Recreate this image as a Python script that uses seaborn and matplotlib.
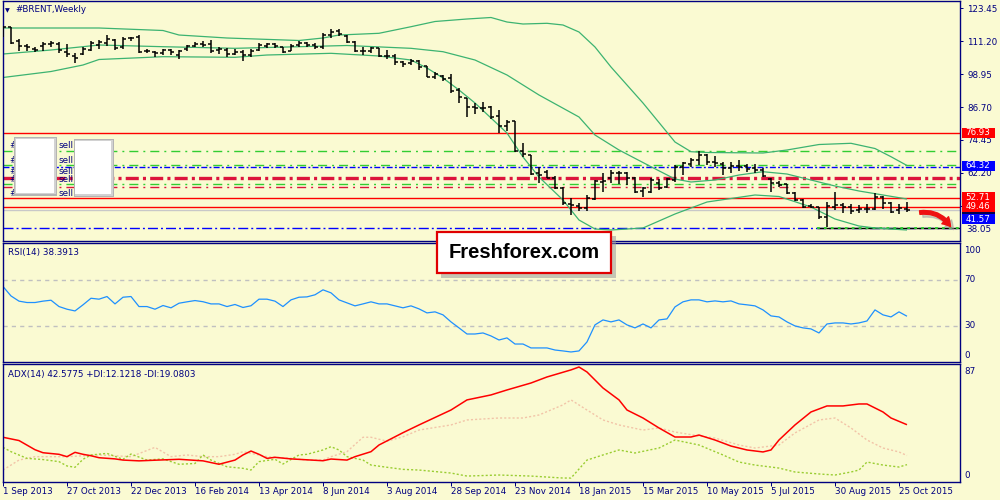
import numpy as np
import pandas as pd
import matplotlib
matplotlib.use("Agg")
import matplotlib.pyplot as plt
import matplotlib.transforms as mtransforms
from matplotlib.patches import Rectangle, FancyArrowPatch
import seaborn as sns

# ---------------- data (weekly #BRENT, week 0 = 1 Sep 2013) ----------------
opens = [114.3,116.4,111.4,109.4,108.4,109.4,110.2,110.2,107.2,105.7,
         106.4,107.9,109.8,110.5,111.7,109.1,112.4,112.8,107.4,107.2,
         106.8,107.9,106.1,108.3,109.4,110.2,110.2,107.9,107.9,106.4,
         107.2,106.1,107.9,109.4,110.2,109.1,107.6,109.8,110.5,109.8,
         109.1,113.5,115.0,113.1,110.9,107.6,107.6,108.7,105.7,105.7,
         103.5,103.1,103.8,102.0,97.9,98.3,97.5,93.0,90.1,86.7,
         86.3,86.7,83.4,79.65,81.5,70.3,68.85,62.2,62.5,60.3,
         56.6,50.6,49.9,49.1,52.5,58.9,60.3,62.2,62.3,60.3,
         55.5,55.1,58.4,57.1,59.55,64.4,65.5,67.0,68.85,66.25,
         65.5,64.0,64.8,64.8,64.0,63.3,59.9,58.4,58.06,54.7,
         52.1,49.9,49.5,45.8,49.5,50.25,49.5,48.4,48.8,48.8,
         53.2,51.0,48.4,48.8]
highs = [116.9,116.6,111.9,110.2,108.9,110.9,111.4,110.9,110.2,106.7,
         109.2,111.4,111.7,113.4,111.9,112.7,112.9,113.4,108.2,107.7,
         108.4,108.4,107.9,109.9,110.9,111.2,111.7,109.2,108.7,108.4,
         107.9,108.2,110.4,110.7,110.7,109.2,110.2,111.2,110.9,110.7,
         114.1,115.6,115.6,113.5,111.4,109.2,109.2,108.7,107.9,106.4,
         103.9,104.5,104.2,102.0,99.9,98.6,99.0,93.7,90.2,88.3,
         88.7,87.1,85.6,81.9,81.6,73.2,69.0,64.5,63.3,61.0,
         56.8,52.7,51.1,53.97,59.55,62.05,63.3,63.0,62.6,60.6,
         57.0,60.2,59.8,60.2,65.1,66.4,67.6,70.5,69.2,68.5,
         66.4,66.4,67.0,65.5,65.5,64.2,60.2,59.3,58.2,55.2,
         52.4,50.6,49.6,51.5,55.2,51.1,50.6,50.25,50.6,54.6,
         53.6,51.5,50.6,51.5]
lows = [112.7,110.2,107.7,107.7,107.2,107.4,109.2,106.9,105.4,103.2,
        106.2,107.7,108.2,109.4,107.9,108.4,111.4,106.7,106.7,105.4,
        106.0,106.2,104.7,107.7,108.9,109.2,106.9,106.4,105.4,106.0,
        103.9,105.4,107.7,108.7,108.7,106.7,107.4,109.2,108.9,108.4,
        108.4,112.3,113.1,110.6,107.3,106.0,106.9,105.2,104.7,102.2,
        101.7,102.5,100.5,97.8,97.3,96.3,92.0,88.3,83.1,84.1,
        85.0,82.1,76.9,77.8,70.1,68.2,61.4,58.5,60.2,56.1,
        50.25,46.5,48.1,48.1,52.1,55.2,58.3,58.1,57.7,54.8,
        53.1,54.6,55.8,56.5,58.9,61.4,64.5,65.1,65.1,64.3,
        61.4,62.0,63.0,62.6,62.3,60.6,55.2,56.8,54.3,51.85,
        49.0,49.0,44.9,42.2,48.4,47.4,46.9,47.1,47.1,48.4,
        48.6,47.4,46.9,47.7]
closes = [116.4,110.7,109.4,109.2,107.9,110.2,110.5,107.9,106.4,104.9,
          108.3,110.5,110.9,112.0,108.7,112.0,112.4,107.2,107.6,106.8,
          107.9,107.2,107.6,109.4,110.2,109.8,107.6,108.2,106.4,107.2,
          106.1,107.6,109.8,110.2,109.4,107.2,109.4,110.5,109.8,109.1,
          113.5,114.7,113.9,110.9,107.6,107.5,108.7,105.7,105.6,103.5,
          102.7,103.8,101.6,97.9,99.0,97.1,92.7,90.4,86.7,86.3,
          86.4,83.0,79.65,81.1,70.3,69.2,61.8,61.4,60.3,56.6,
          51.0,50.25,49.1,52.85,59.2,59.3,62.2,62.1,60.2,55.1,
          56.6,59.55,56.5,59.9,64.4,65.9,67.0,68.85,66.25,65.9,
          64.0,64.8,64.4,63.6,63.3,61.0,58.5,57.7,54.7,52.1,
          49.5,49.5,45.8,49.9,50.25,49.5,48.0,48.8,48.6,53.2,
          51.0,47.6,49.1,48.4]

# Bollinger band readings (week index, price)
upper_week = [0,12,20,22,28,37,40,42,47,51,54,58,61,63,65,68,70,72,74,76,80,84,86,88,95,98,102,106,109,111,113]
upper_val = [116.12,116.12,115.19,113.51,112.40,111.47,112.40,113.51,114.15,116.60,
             118.54,119.47,120.03,118.35,117.61,117.87,117.24,114.63,109.05,101.61,
             88.21,73.69,70.08,69.79,69.60,70.72,72.76,73.21,71.27,68.22,64.95]
middle_week = [0,6,12,20,29,37,43,51,55,59,63,67,72,74,77,81,84,86,89,92,95,98,101,104,107,110,113]
middle_val = [106.44,107.93,109.79,109.16,108.56,109.16,109.61,108.56,107.30,104.21,
              98.63,91.19,83.00,76.30,70.72,64.50,59.92,58.81,59.55,61.41,
              62.64,61.78,59.55,57.32,55.46,53.97,52.48]
lower_week = [0,6,10,12,20,29,33,41,47,51,53,55,57,59,61,63,65,67,70,72,74,76,80,84,88,94,97,99,101,104,107,109,113]
lower_val = [97.70,99.93,102.35,104.40,105.44,105.22,106.07,106.70,105.70,104.21,
             101.23,97.51,93.05,88.21,82.63,77.04,68.11,60.67,52.11,44.66,
             41.32,40.94,41.69,46.90,51.36,53.97,53.41,51.48,49.50,45.04,
             42.43,41.69,40.94]

# RSI(14), one value per week
rsi = [64.2,56,51.5,50.3,50.3,51.5,52.3,46.8,44.5,43.0,48.3,54.0,53.2,55.5,49.1,54.9,55.5,46.8,46.8,44.5,
       47.7,45.7,49.7,50.9,52.0,51.0,49.1,49.1,46.8,48.6,46.0,47.5,53.2,53.2,51.5,46.8,52.6,54.9,
       55.2,57.0,61.3,58.7,52.6,50.0,47.4,49.1,50.9,49.1,49.1,47.4,45.7,47.4,44.8,41.3,42.2,39.6,
       33.5,28.3,23.0,23.0,23.9,21.3,17.8,19.6,14.3,14.3,10.9,10.9,10.9,9.1,8.3,7.4,8.3,16.1,
       30.9,35.2,33.5,35.2,30.9,28.3,31.7,28.3,35.2,36.1,46.5,50.9,52.6,52.6,50.9,51.7,50.9,51.7,
       49.1,48.3,47.4,43.9,38.7,37.8,33.5,30.0,28.3,27.4,23.9,31.7,32.6,32.6,31.7,32.6,34.3,43.9,
       39.6,37.8,42.2,38.4]

# ADX(14) readings (week index, value)
adx_week = [0,2,4,5,7,8,9,10,11,12,14,15,17,19,22,25,27,29,30,31,32,33,34,36,38,40,41,43,44,46,
            47,50,52,56,58,61,63,66,68,71,72,73,74,75,77,78,80,82,84,86,87,89,91,93,95,96,97,99,
            101,103,105,107,108,110,111,113]
adx_val = [33.0,30.5,23.5,21.2,20.0,18.2,21.5,20.0,18.9,17.4,16.5,15.6,15.0,15.5,16.2,15.0,12.4,15.6,
           19.5,22.5,20.0,16.9,17.7,16.5,15.8,15.1,16.4,15.6,18.2,22.0,27.1,36.5,42.4,53.8,61.5,65.3,
           69.1,74.4,79.0,84.4,86.6,82.8,76.7,70.6,61.5,53.8,47.7,40.1,33.2,33.2,34.7,30.9,26.3,23.3,
           21.8,23.3,30.9,42.4,52.3,56.9,56.9,58.4,58.4,52.3,47.7,42.58]
plus_di_week = [0,1,3,5,7,8,9,10,11,13,15,16,18,20,22,24,25,26,28,30,31,32,34,35,37,38,40,41,42,43,
                45,46,48,50,52,56,58,62,66,70,71,73,75,77,79,82,84,87,90,92,94,97,99,102,104,106,107,
                108,110,112,113]
plus_di_val = [25.3,22.0,16.9,16.0,14.4,11.1,10.1,16.2,19.5,20.7,16.2,20.2,15.6,16.5,12.4,13.0,19.5,15.6,
               10.5,9.3,8.0,14.4,16.2,12.6,19.5,20.0,23.3,25.8,23.3,18.2,15.6,11.8,10.1,8.5,8.0,5.7,
               3.4,4.2,3.4,1.9,1.9,15.6,19.5,23.3,21.0,24.8,30.9,27.1,19.5,14.1,11.8,9.5,6.5,5.0,4.2,
               6.5,8.0,14.1,11.8,10.3,12.12]
minus_di_week = [0,2,4,8,12,16,19,21,23,25,27,29,30,33,36,38,40,41,43,45,46,48,50,52,56,58,62,65,67,70,
                 71,73,75,77,80,82,84,87,89,92,94,97,99,102,104,106,108,110,112,113]
minus_di_val = [8.0,15.6,18.2,18.2,19.5,18.2,25.3,18.2,19.5,18.2,18.2,20.0,22.0,18.2,16.9,15.6,15.6,18.2,
                22.0,33.0,33.0,30.0,33.4,38.5,42.4,46.2,47.7,47.7,50.0,57.7,61.5,53.8,46.2,42.4,38.5,
                40.1,37.0,34.0,32.4,27.1,24.8,27.1,36.3,46.2,47.7,40.1,30.9,24.8,21.8,19.08]

# horizontal price levels drawn on the chart
level_values = [76.93, 70.23, 65.13, 64.32, 60.37, 58.06, 56.87, 52.71, 49.46, 48.28, 41.57]
level_kinds  = ['red', 'green', 'green', 'blue', 'crimson', 'green', 'crimson_thin', 'red', 'red', 'bid', 'blue2']
support_level = 41.57
support_from_week = 101.75

price_ticks = [123.45, 111.20, 98.95, 86.70, 74.45, 62.20, 49.95]
price_bottom_label = 38.05
tag_values = [76.93, 64.32, 52.71, 49.46, 41.57]
tag_colors = ['#FF0000', '#0000FF', '#FF0000', '#FF0000', '#0000FF']
tag_shift_px = [0.5, 1.4, 1.2, 0.4, 9.1]

date_tick_weeks = list(range(0, 113, 8))
date_labels = ["1 Sep 2013", "27 Oct 2013", "22 Dec 2013", "16 Feb 2014", "13 Apr 2014",
               "8 Jun 2014", "3 Aug 2014", "28 Sep 2014", "23 Nov 2014", "18 Jan 2015",
               "15 Mar 2015", "10 May 2015", "5 Jul 2015", "30 Aug 2015", "25 Oct 2015"]

for name, arr in [("opens", opens), ("highs", highs), ("lows", lows), ("rsi", rsi)]:
    if len(arr) != len(closes):
        raise SystemExit(f"{name} has {len(arr)} values, closes {len(closes)}")

# ---------------- styling ----------------
W, H = 1000, 500
BG = "#FAFAD2"
NAVY = "#000080"
GREEN_BB = "#3CB371"
LIME = "#32CD32"
FS = 6.3
PX = 0.72  # one pixel in points

plt.rcParams['font.family'] = ['DejaVu Sans']
plt.rcParams['lines.scale_dashes'] = False
plt.rcParams['lines.solid_capstyle'] = 'butt'

fig = plt.figure(figsize=(10, 5), dpi=100, facecolor=BG)


def px_axes(x0, y0, x1, y1):
    a = fig.add_axes([x0 / W, 1 - y1 / H, (x1 - x0) / W, (y1 - y0) / H])
    a.set_facecolor(BG)
    for s in a.spines.values():
        s.set_color(NAVY)
        s.set_linewidth(1.0)
    a.set_xlim(-0.0625, 119.69)
    a.tick_params(axis='x', bottom=False, labelbottom=False)
    a.tick_params(axis='y', left=False, labelleft=False)
    return a


ax = px_axes(2.5, 1, 960.5, 241)
ax_rsi = px_axes(2.5, 242.7, 960.5, 362)
ax_adx = px_axes(2.5, 364, 960.5, 481.7)

ax.set_ylim(36.85, 126.17)
ax_rsi.set_ylim(-1.3, 102.2)
ax_adx.set_ylim(-0.9, 88.9)

# ---- horizontal levels ----
styles = {
    'red': dict(color='#FF0000', lw=1.0, ls='-'),
    'green': dict(color=LIME, lw=1.0, ls=(0, (6.5, 3.6, 1.4, 3.6))),
    'blue': dict(color='#0000FF', lw=1.0, ls=(0, (4.3, 1.6, 1.4, 1.6))),
    'crimson': dict(color='#DC143C', lw=2.4, ls=(0, (9.4, 3.0, 2.2, 3.0))),
    'crimson_thin': dict(color='#DC143C', lw=1.0, ls=(0, (6.5, 3.6, 1.4, 3.6))),
    'bid': dict(color='#C8C8C8', lw=1.0, ls='-'),
    'blue2': dict(color='#0000FF', lw=1.0, ls=(0, (7.2, 2.2, 1.4, 2.2))),
}
for v, k in zip(level_values, level_kinds):
    ax.axhline(v, zorder=1, **styles[k])

# support line (black with green dots) at the right
ax.hlines(support_level, support_from_week, 119.69, color='black', lw=1.0, zorder=1.5)
ax.hlines(support_level, support_from_week, 119.69, color=LIME, lw=1.4,
          linestyles=[(0, (2.0, 3.0))], zorder=1.6)

# ---- Bollinger bands ----
for wk, val in [(upper_week, upper_val), (middle_week, middle_val), (lower_week, lower_val)]:
    sns.lineplot(x=wk, y=val, ax=ax, color=GREEN_BB, linewidth=0.9, legend=False, zorder=2)

# ---- OHLC bars ----
df = pd.DataFrame(dict(week=np.arange(len(closes)), open=opens, high=highs, low=lows, close=closes))
ax.vlines(df.week, df.low, df.high, color='black', lw=1.1, zorder=3)
ax.hlines(df.open, df.week - 0.36, df.week, color='black', lw=1.1, zorder=3)
ax.hlines(df.close, df.week, df.week + 0.36, color='black', lw=1.1, zorder=3)

ax.set_xlabel('')
ax.set_ylabel('')

# price axis on right
ax.yaxis.tick_right()
ax.set_yticks(price_ticks)
ax.set_yticklabels([f"{t:.2f}" for t in price_ticks])
ax.tick_params(axis='y', right=True, labelright=True, direction='out', length=2.2, width=PX,
               color=NAVY, labelcolor=NAVY, labelsize=FS, pad=2.5)


def right_text(a, yval, s, dy_px=0.0, dx_px=6.0, **kw):
    tr = mtransforms.blended_transform_factory(a.transAxes, a.transData) + \
        mtransforms.ScaledTranslation(dx_px / 100, -dy_px / 100, fig.dpi_scale_trans)
    a.text(1.0, yval, s, transform=tr, fontsize=FS, va='center', ha='left', clip_on=False, **kw)


right_text(ax, price_bottom_label, f"{price_bottom_label:.2f}", dy_px=-8.5, color=NAVY)

# current-price (dark) tag under the red tags
px_per_unit = 240 / (126.17 - 36.85)


def tag(a, value, color, shift_px, text=None, zorder=6):
    tr = mtransforms.blended_transform_factory(a.transAxes, a.transData) + \
        mtransforms.ScaledTranslation(0, shift_px / 100, fig.dpi_scale_trans)
    h = 9.6 / px_per_unit
    a.add_patch(Rectangle((1.0011, value - h / 2), 33 / 958, h, transform=tr,
                          facecolor=color, edgecolor='none', clip_on=False, zorder=zorder))
    if text:
        tr2 = tr + mtransforms.ScaledTranslation(5 / 100, 0, fig.dpi_scale_trans)
        a.text(1.0, value, text, transform=tr2, color='white', fontsize=FS, va='center',
               ha='left', clip_on=False, zorder=zorder + 0.5)


tag(ax, level_values[level_kinds.index('bid')], '#000050', 0.8, None, zorder=5)
for v, c, s in zip(tag_values, tag_colors, tag_shift_px):
    tag(ax, v, c, s, f"{v:.2f}")

# ---- RSI ----
sns.lineplot(x=df.week, y=rsi, ax=ax_rsi, color='#1E90FF', linewidth=0.9, legend=False)
for lvl in (70, 30):
    ax_rsi.axhline(lvl, color='#C0C0C0', lw=1.0, ls=(0, (3.0, 3.0)), zorder=1)
ax_rsi.set_xlabel(''); ax_rsi.set_ylabel('')
for v, dy in [(100, 5.2), (70, 0), (30, 0), (0, -4.8)]:
    right_text(ax_rsi, v, str(v), dy_px=dy, dx_px=3.5, color=NAVY)

# ---- ADX ----
sns.lineplot(x=minus_di_week, y=minus_di_val, ax=ax_adx, color='#F2C4A8', linewidth=1.0,
             linestyle=(0, (1.5, 1.5)), legend=False)
sns.lineplot(x=plus_di_week, y=plus_di_val, ax=ax_adx, color='#9ACD32', linewidth=1.0,
             linestyle=(0, (1.5, 1.5)), legend=False)
sns.lineplot(x=adx_week, y=adx_val, ax=ax_adx, color='#FF0000', linewidth=1.1, legend=False)
ax_adx.set_xlabel(''); ax_adx.set_ylabel('')
for v, dy in [(87, 5.2), (0, -5.2)]:
    right_text(ax_adx, v, str(v), dy_px=dy, dx_px=3.5, color=NAVY)

ax_adx.set_xticks(date_tick_weeks)
ax_adx.set_xticklabels(date_labels, ha='left')
ax_adx.tick_params(axis='x', bottom=True, labelbottom=True, direction='out', length=3.0,
                   width=PX, color=NAVY, labelcolor=NAVY, labelsize=FS, pad=1.0)
for a in (ax, ax_rsi, ax_adx):
    a.set_xlim(-0.0625, 119.69)

# ---- titles ----
def fig_text(x, y, s, **kw):
    fig.text(x / W, 1 - y / H, s, **kw)


fig_text(7.5, 10.5, '\u25BC', fontsize=4.5, color=NAVY, ha='center', va='center')
fig_text(15, 10, '#BRENT,Weekly', fontsize=FS, color=NAVY, va='center')
fig_text(8, 252.5, 'RSI(14) 38.3913', fontsize=FS, color=NAVY, va='center')
fig_text(8, 374, 'ADX(14) 42.5775 +DI:12.1218 -DI:19.0803', fontsize=FS, color=NAVY, va='center')

# ---- order labels hidden behind white boxes ----
for yy in (146, 160, 172, 180, 193):
    fig_text(9.5, yy, '#', fontsize=FS, color=NAVY, va='center', zorder=2)
    fig_text(58.5, yy, 'sell', fontsize=FS, color=NAVY, va='center', zorder=2)


def fig_rect(x0, y0, x1, y1, **kw):
    r = Rectangle((x0 / W, 1 - y1 / H), (x1 - x0) / W, (y1 - y0) / H,
                  transform=fig.transFigure, **kw)
    fig.add_artist(r)


for (x0, y0, x1, y1) in [(15.7, 138.7, 54.3, 192.7), (75, 140.7, 111, 194)]:
    fig_rect(x0 - 1.5, y0 - 1.5, x1 + 3.0, y1 + 3.0, facecolor='#B4B4B4', edgecolor='none', zorder=3)
    fig_rect(x0 - 0.5, y0 - 0.5, x1 + 1.5, y1 + 1.5, facecolor='#D2D2D2', edgecolor='none', zorder=3.1)
    fig_rect(x0, y0, x1, y1, facecolor='white', edgecolor='none', zorder=3.2)

# ---- watermark ----
fig_rect(441, 236, 616, 278, facecolor='#9A9A9A', edgecolor='none', alpha=0.55, zorder=7)
fig_rect(437, 232, 611, 273, facecolor='white', edgecolor='#E00000', linewidth=1.6, zorder=7.5)
fig_text(524, 252.5, 'Freshforex.com', fontsize=14.5, fontweight='bold', color='black',
         ha='center', va='center', zorder=8, family=['Liberation Sans', 'DejaVu Sans'])

# ---- red arrow ----
arr_kw = dict(connectionstyle='arc3,rad=-0.35',
              arrowstyle='simple,head_width=7,head_length=6,tail_width=2.6')
shadow = FancyArrowPatch((920 / W, 1 - 216 / H), (955 / W, 1 - 232 / H), transform=fig.transFigure,
                         color='#999999', alpha=0.45, zorder=7, **arr_kw)
fig.add_artist(shadow)
arrow = FancyArrowPatch((917 / W, 1 - 213 / H), (952 / W, 1 - 229 / H), transform=fig.transFigure,
                        color='#EE1111', zorder=7.5, **arr_kw)
fig.add_artist(arrow)

fig.savefig('out.png', dpi=100, facecolor=BG)
